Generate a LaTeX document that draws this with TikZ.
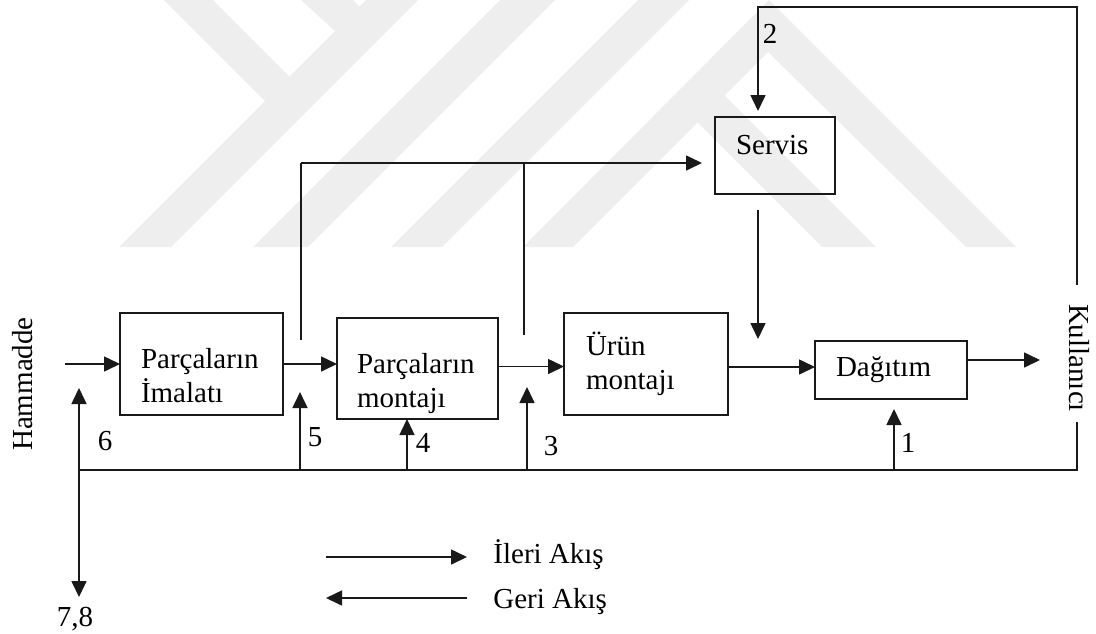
\documentclass[tikz,border=0pt]{standalone}
\usepackage{fontspec}
\setmainfont{Liberation Serif}
\usetikzlibrary{arrows.meta}
\definecolor{wm}{RGB}{238,238,238}
\definecolor{ink}{RGB}{25,25,25}
\begin{document}
\begin{tikzpicture}[x=0.5pt,y=-0.5pt,
  font=\fontsize{14.5}{17}\selectfont,
  line/.style={draw=ink,line width=0.8pt},
  flow/.style={line,-{Triangle[length=8pt,width=7.5pt]}},
  block/.style={draw=ink,line width=0.8pt,rectangle,align=left,inner sep=0pt,outer sep=0pt},
  num/.style={inner sep=0pt}
]
\useasboundingbox (0,0) rectangle (1096,633);

% background emblem
\fill[wm] (119,247) -- (171,247) -- (418,0) -- (366,0) -- cycle;
\fill[wm] (164,0) -- (213,0) -- (303,90) -- (274,110) -- cycle;
\fill[wm] (301,0) -- (353,0) -- (378,25) -- (350,45) -- cycle;
\fill[wm] (253,247) -- (308,247) -- (555,0) -- (500,0) -- cycle;
\fill[wm] (391,247) -- (442,247) -- (689,0) -- (638,0) -- cycle;
\fill[wm] (523,247) -- (769,0) -- (1016,247) -- (966,247) -- (768,52) -- (573,247) -- cycle;
\fill[wm] (717,88) -- (690,115) -- (822,247) -- (876,247) -- cycle;

% process blocks
\node[block,minimum width=81.5pt,minimum height=51pt,text width=60.5pt,text depth=6pt] (pim) at (201.5,364) {Parçaların\\İmalatı};
\node[block,minimum width=80.5pt,minimum height=50.5pt,text width=60.5pt,text depth=5.5pt] (pmo) at (417.5,368.5) {Parçaların\\montajı};
\node[block,minimum width=82pt,minimum height=51pt,text width=60pt] (umo) at (646,364) {Ürün\\montajı};
\node[block,minimum width=76pt,minimum height=29pt,text width=55pt] (dag) at (891,370) {Dağıtım};
\node[block,minimum width=60pt,minimum height=38.5pt,text width=39pt,text depth=10.4pt] (srv) at (775,155.5) {Servis};

% end points
\node[rotate=90,inner sep=0pt] (ham) at (23,384) {Hammadde};
\node[rotate=-90,inner sep=0pt] (kul) at (1079,358) {Kullanıcı};

% coordinates of the network
\coordinate (hin) at (65,364);
\coordinate (out) at (1040,360);
\coordinate (bl) at (79,470);
\coordinate (br) at (1077,470);
\coordinate (kb) at (1077,422);
\coordinate (kt) at (1077,285);
\coordinate (tr) at (1077,7);
\coordinate (tl) at (758,7);
\coordinate (t2) at (758,111);
\coordinate (t6) at (79,388);
\coordinate (t78) at (79,597);
\coordinate (c5) at (300,470);
\coordinate (t5) at (300,392);
\coordinate (c4) at (407,470);
\coordinate (c3) at (527,470);
\coordinate (t3) at (527,387);
\coordinate (c1) at (894,470);
\coordinate (s1b) at (301,340);
\coordinate (sj1) at (301,163);
\coordinate (s2b) at (524,335);
\coordinate (sj2) at (524,163);
\coordinate (sa) at (702,163);
\coordinate (sv1) at (758,210);
\coordinate (sv2) at (758,339);

% forward flow
\draw[flow] (hin) -- (hin -| pim.west);
\draw[flow] (pim.east) -- (pim.east -| pmo.west);
\draw[flow] ([yshift=1pt]pmo.east) -- ([yshift=1pt]pmo.east -| umo.west);
\draw[flow] ([yshift=-1.5pt]umo.east) -- ([yshift=-1.5pt]umo.east -| dag.west);
\draw[flow] (dag.east |- out) -- (out);

% service branch
\draw[line] (s1b) -- (sj1);
\draw[flow] (sj1) -- (sa);
\draw[line] (s2b) -- (sj2);
\draw[flow] (sv1) -- (sv2);

% return loop
\draw[line] (kb) -- (br) -- (bl);
\draw[flow] (kt) -- (tr) -- (tl) -- (t2);
\draw[line,{Triangle[length=8pt,width=7.5pt]}-{Triangle[length=8pt,width=7.5pt]}] (t6) -- (t78);
\draw[flow] (c5) -- (t5);
\draw[flow] (c4) -- (c4 |- pmo.south);
\draw[flow] (c3) -- (t3);
\draw[flow,shorten >=5pt] (c1) -- (c1 |- dag.south);

% numbers
\node[num] (n1) at (908,443) {1};
\node[num] (n2) at (770,34) {2};
\node[num] (n3) at (551,446) {3};
\node[num] (n4) at (423,443) {4};
\node[num] (n5) at (315,437) {5};
\node[num] (n6) at (105,441) {6};
\node[num,anchor=base] (n78) at (75,626) {7,8};

% legend
\coordinate (lf1) at (326,557);
\coordinate (lf2) at (467,557);
\coordinate (lb1) at (467,598);
\coordinate (lb2) at (326,598);
\draw[flow] (lf1) -- (lf2);
\draw[flow] (lb1) -- (lb2);
\node[anchor=base west,inner sep=0pt] (ileri) at (493,563) {İleri Akış};
\node[anchor=base west,inner sep=0pt] (geri) at (493,608) {Geri Akış};
\end{tikzpicture}
\end{document}
